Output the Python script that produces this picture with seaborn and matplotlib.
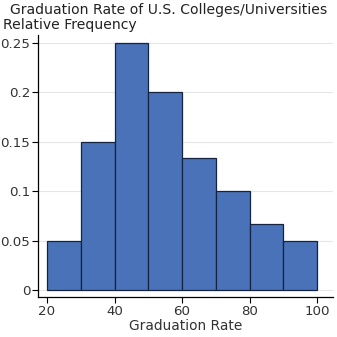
import matplotlib
matplotlib.use("Agg")
import matplotlib.pyplot as plt
import seaborn as sns
from matplotlib.ticker import FuncFormatter

# Graduation rate histogram (relative frequency per 10-point bin)
bin_edges = [20, 30, 40, 50, 60, 70, 80, 90, 100]
bin_mids = [25, 35, 45, 55, 65, 75, 85, 95]
rel_freq = [0.05, 0.15, 0.25, 0.20, 0.1333, 0.10, 0.0667, 0.05]
x_ticks = [20, 40, 60, 80, 100]
y_ticks = [0, 0.05, 0.1, 0.15, 0.2, 0.25]

sns.set_theme(style="white")
plt.rcParams["font.family"] = ["DejaVu Sans"]

W = H = 337
fig = plt.figure(figsize=(W / 100, H / 100), dpi=100)
ax = fig.add_axes([38 / W, 40 / H, (333 - 38) / W, (297 - 35) / H])

sns.histplot(x=bin_mids, weights=rel_freq, bins=bin_edges, ax=ax,
             color="#4a72b8", alpha=1, edgecolor="#14233f", linewidth=0.9)

ax.set_xlim(17.33, 104.7)
ax.set_ylim(-0.0071, 0.258)
ax.set_xticks(x_ticks)
ax.set_yticks(y_ticks)
ax.yaxis.set_major_formatter(FuncFormatter(lambda v, p: f"{v:g}"))
ax.grid(axis="y", color="#e6e6e6", linewidth=0.8)
ax.set_axisbelow(True)

for side in ("top", "right"):
    ax.spines[side].set_visible(False)
for side in ("left", "bottom"):
    ax.spines[side].set_color("#000000")
    ax.spines[side].set_linewidth(0.9)

ax.tick_params(axis="both", which="major", direction="out", length=4, width=0.8,
               color="#000000", labelsize=9.6, labelcolor="#333333", pad=1.5,
               left=True, bottom=True)

ax.set_xlabel("Graduation Rate", fontsize=9.9, color="#333333", labelpad=1)
ax.set_ylabel("")

fig.text(10 / W, 1 - 10 / H, "Graduation Rate of U.S. Colleges/Universities",
         fontsize=10.05, color="#222222", ha="left", va="center")
fig.text(3 / W, 1 - 25 / H, "Relative Frequency",
         fontsize=10.05, color="#222222", ha="left", va="center")

fig.savefig("out.png", dpi=100, facecolor="white")
